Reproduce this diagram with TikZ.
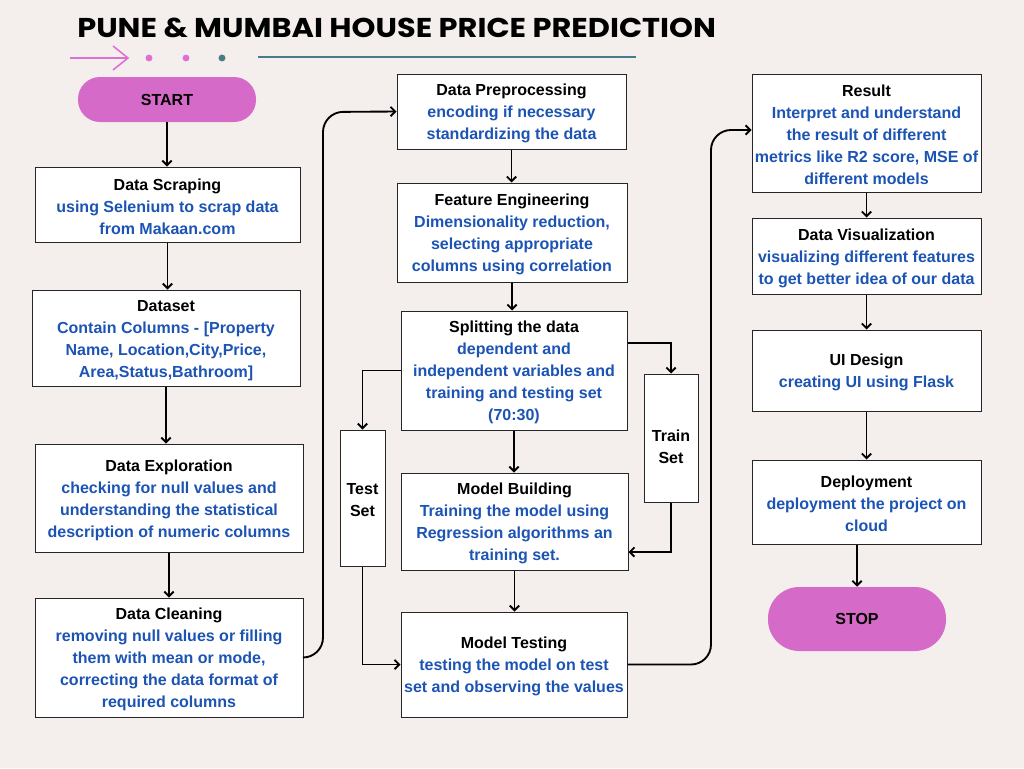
\documentclass[tikz,border=0pt]{standalone}
\usepackage{fontspec}
\setmainfont{Liberation Sans}
\newfontfamily\titlefont{Poppins}
\usetikzlibrary{arrows.meta}
\definecolor{bg}{RGB}{244,239,237}
\definecolor{tblue}{RGB}{28,84,180}
\definecolor{pill}{RGB}{214,106,200}
\definecolor{pinkdeco}{RGB}{222,112,212}
\definecolor{tealdeco}{RGB}{72,122,136}
\newcommand\blu[1]{\textcolor{tblue}{#1}}
\newcommand\bx[6]{\node[box, minimum width={(#4-#2)*0.75pt}, minimum height={(#5-#3)*0.75pt}] (#1) at ({(#2+#4)/2},{(#3+#5)/2}) {\rule{0pt}{11.8pt}#6};}
\begin{document}
\begin{tikzpicture}[x=0.75pt,y=-0.75pt,
 box/.style={draw=black!85, line width=0.75pt, fill=white, inner sep=0pt, align=center, font=\fontsize{12}{16.5}\selectfont\bfseries},
 pillnode/.style={fill=pill, inner sep=0pt, font=\fontsize{12}{14}\selectfont\bfseries},
 conn/.style={line width=1.4pt, draw=black, -{Straight Barb[length=3.5pt,width=7pt]}},
]
\fill[bg] (0,0) rectangle (1024,768);
\useasboundingbox (0,0) rectangle (1024,768);

% title
\node[anchor=base west, inner sep=0pt] (title) at (77,37) {\resizebox{479pt}{14.6pt}{\titlefont\bfseries PUNE \& MUMBAI HOUSE PRICE PREDICTION}};
\draw[pinkdeco, line width=1.2pt] (70,58) -- (128,58);
\draw[pinkdeco, line width=1.2pt] (113,46) -- (128,58) -- (113,70);
\fill[pinkdeco] (149,58) circle[radius=2.6pt];
\fill[pinkdeco] (186,58) circle[radius=2.6pt];
\fill[tealdeco] (222,58) circle[radius=2.6pt];
\draw[tealdeco, line width=1.9pt] (258,57) -- (636,57);

% pills
\node[pillnode, rounded corners=16.5pt, minimum width=133.5pt, minimum height=33.75pt] (start) at (167,99.5) {START};
\node[pillnode, rounded corners=23.5pt, minimum width=133.5pt, minimum height=48pt] (stop) at (857,619) {STOP};

% left column
\bx{ds}{35}{167}{300}{242}{Data Scraping\\\blu{using Selenium to scrap data}\\\blu{from Makaan.com}}
\bx{dset}{32}{290}{300}{386}{Dataset\\\blu{Contain Columns - [Property}\\\blu{Name, Location,City,Price,}\\\blu{Area,Status,Bathroom]}}
\bx{dexp}{35}{444}{303}{552}{Data Exploration\\\blu{checking for null values and}\\\blu{understanding the statistical}\\\blu{description of numeric columns}}
\bx{dc}{35}{598}{303}{717}{Data Cleaning\\\blu{removing null values or filling}\\\blu{them with mean or mode,}\\\blu{correcting the data format of}\\\blu{required columns}}

% middle column
\bx{pp}{397}{74}{626}{149}{Data Preprocessing\\\blu{encoding if necessary}\\\blu{standardizing the data}}
\bx{fe}{397}{183}{627}{282}{Feature Engineering\\\blu{Dimensionality reduction,}\\\blu{selecting appropriate}\\\blu{columns using correlation}}
\bx{split}{401}{311}{627}{430}{Splitting the data\\\blu{dependent and}\\\blu{independent variables and}\\\blu{training and testing set}\\\blu{(70:30)}}
\bx{mb}{401}{473}{628}{570}{Model Building\\\blu{Training the model using}\\\blu{Regression algorithms an}\\\blu{training set.}}
\bx{mt}{401}{612}{627}{717}{Model Testing\\\blu{testing the model on test}\\\blu{set and observing the values}}
\bx{test}{340}{430}{385}{566}{Test\\Set}
\bx{train}{644}{374}{698}{502}{\rule{0pt}{22pt}Train\\Set}

% right column
\bx{res}{752}{74}{981}{192}{Result\\\blu{Interpret and understand}\\\blu{the result of different}\\\blu{metrics like R2 score, MSE of}\\\blu{different models}}
\bx{dv}{752}{218}{981}{294}{Data Visualization\\\blu{visualizing different features}\\\blu{to get better idea of our data}}
\bx{ui}{752}{330}{981}{411}{UI Design\\\blu{creating UI using Flask}}
\bx{dep}{752}{460}{981}{544}{Deployment\\\blu{deployment the project on}\\\blu{cloud}}

% connectors
\draw[conn] (start.south) -- (start.south |- ds.north);
\draw[conn] (ds.south) -- (ds.south |- dset.north);
\draw[conn] (dset.south) -- (dset.south |- dexp.north);
\draw[conn] (dexp.south) -- (dexp.south |- dc.north);
\draw[conn, rounded corners=15pt] (dc.east) -- (323,657.5) -- (323,112) -- (pp.west);
\draw[conn] (pp.south) -- (pp.south |- fe.north);
\draw[conn] (fe.south) -- (fe.south |- split.north);
\draw[conn] (split.east |- 0,343) -| (train.north);
\draw[conn] (split.west) -| (test.north);
\draw[conn] (split.south) -- (split.south |- mb.north);
\draw[conn] (train.south) |- (mb.east |- 0,552);
\draw[conn] (mb.south) -- (mb.south |- mt.north);
\draw[conn] (test.south) |- (mt.west);
\draw[conn, rounded corners=15pt] (mt.east) -- (711,664.5) -- (711,130) -- (res.west |- 0,130);
\draw[conn] (res.south) -- (res.south |- dv.north);
\draw[conn] (dv.south) -- (dv.south |- ui.north);
\draw[conn] (ui.south) -- (ui.south |- dep.north);
\draw[conn] (stop.north |- dep.south) -- (stop.north);
\end{tikzpicture}
\end{document}
